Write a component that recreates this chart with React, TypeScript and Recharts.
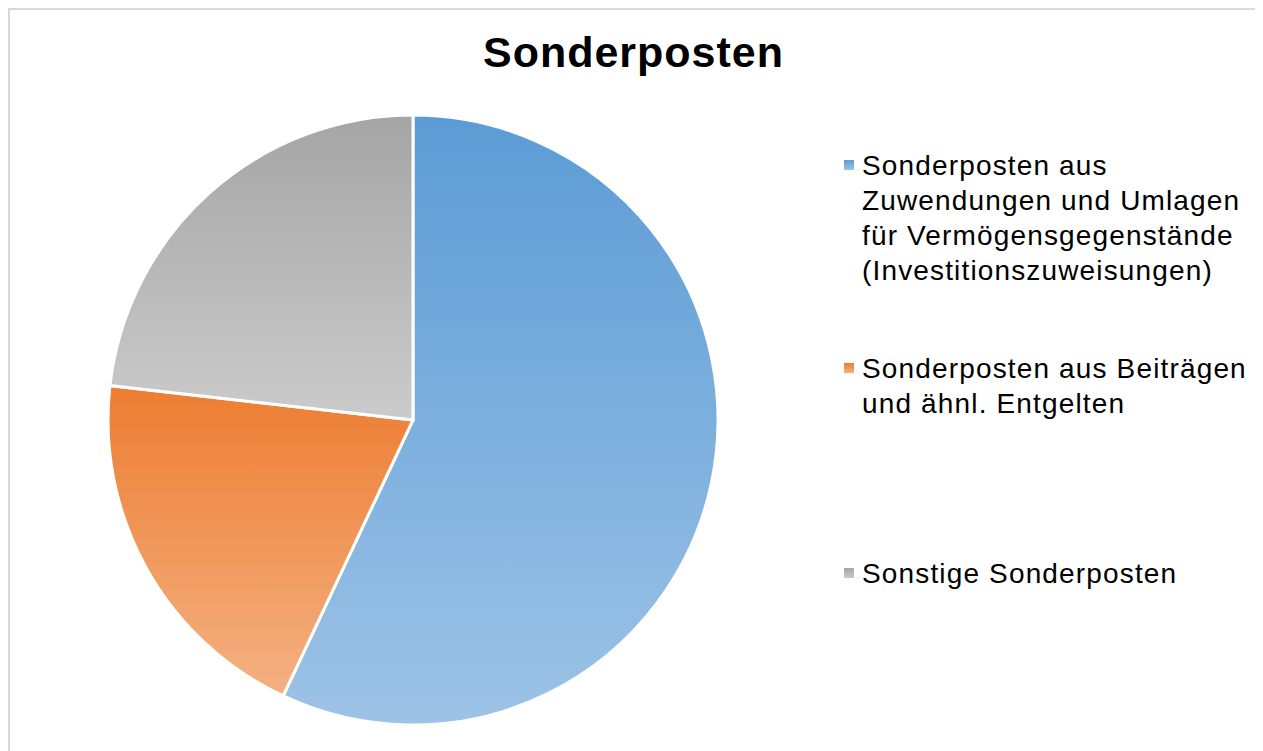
import { PieChart, Pie, Cell, Legend } from 'recharts'

const categories = [
  'Sonderposten aus Zuwendungen und Umlagen für Vermögensgegenstände (Investitionszuweisungen)',
  'Sonderposten aus Beiträgen und ähnl. Entgelten',
  'Sonstige Sonderposten',
]
const shares = [57.0, 19.8, 23.2]

const gradTop = ['#5B9BD5', '#ED7D31', '#A5A5A5']
const gradBottom = ['#9DC3E6', '#F4B183', '#CBCBCB']

const data = categories.map((name, i) => ({ name, value: shares[i] }))

const FONT = '"Liberation Sans", Arial, sans-serif'
const legendTops = [138, 341, 546]

// legend drawn in data order (recharts would sort it by name otherwise)
function renderLegend() {
  return (
    <div style={{ position: 'relative', width: 410, height: 600 }}>
      {categories.map((name, i) => (
        <div key={i} style={{ position: 'absolute', top: legendTops[i], left: 0, display: 'flex', alignItems: 'flex-start' }}>
          <svg width={19} height={35} style={{ flex: 'none' }}>
            <rect x={1} y={12} width={10} height={10} fill={`url(#grad${i})`} />
          </svg>
          <div style={{ width: 392, fontFamily: FONT, fontSize: 28, letterSpacing: 1.15, lineHeight: '35px', color: '#000', textAlign: 'left' }}>
            {name}
          </div>
        </div>
      ))}
    </div>
  )
}

export default function App() {
  return (
    <div
      style={{
        position: 'relative',
        boxSizing: 'border-box',
        width: 'calc(100vw - 8px)',
        height: 743,
        borderTop: '2px solid #D9D9D9',
        borderLeft: '2px solid #D9D9D9',
        borderRight: '2px solid #D9D9D9',
        background: '#fff',
        overflow: 'hidden',
      }}
    >
      <style>{'html, body { overflow: hidden; }'}</style>
      <div
        style={{
          position: 'absolute',
          left: 0,
          top: 18,
          width: 1247,
          textAlign: 'center',
          fontFamily: FONT,
          fontWeight: 'bold',
          fontSize: 43,
          letterSpacing: 1,
          color: '#000',
          zIndex: 2,
        }}
      >
        Sonderposten
      </div>
      <PieChart width={1251} height={743} margin={{ top: 0, right: 0, bottom: 0, left: 0 }}>
        <defs>
          {gradTop.map((c, i) => (
            <linearGradient key={i} id={`grad${i}`} x1="0" y1="0" x2="0" y2="1">
              <stop offset="0%" stopColor={c} />
              <stop offset="100%" stopColor={gradBottom[i]} />
            </linearGradient>
          ))}
        </defs>
        <Pie
          data={data}
          dataKey="value"
          nameKey="name"
          cx={403}
          cy={410}
          outerRadius={305}
          startAngle={90}
          endAngle={-270}
          stroke="#fff"
          strokeWidth={3}
          isAnimationActive={false}
        >
          {data.map((_, i) => (
            <Cell key={i} fill={`url(#grad${i})`} />
          ))}
        </Pie>
        <Legend
          content={renderLegend}
          wrapperStyle={{ position: 'absolute', left: 833, top: 0, width: 410 }}
        />
      </PieChart>
    </div>
  )
}
